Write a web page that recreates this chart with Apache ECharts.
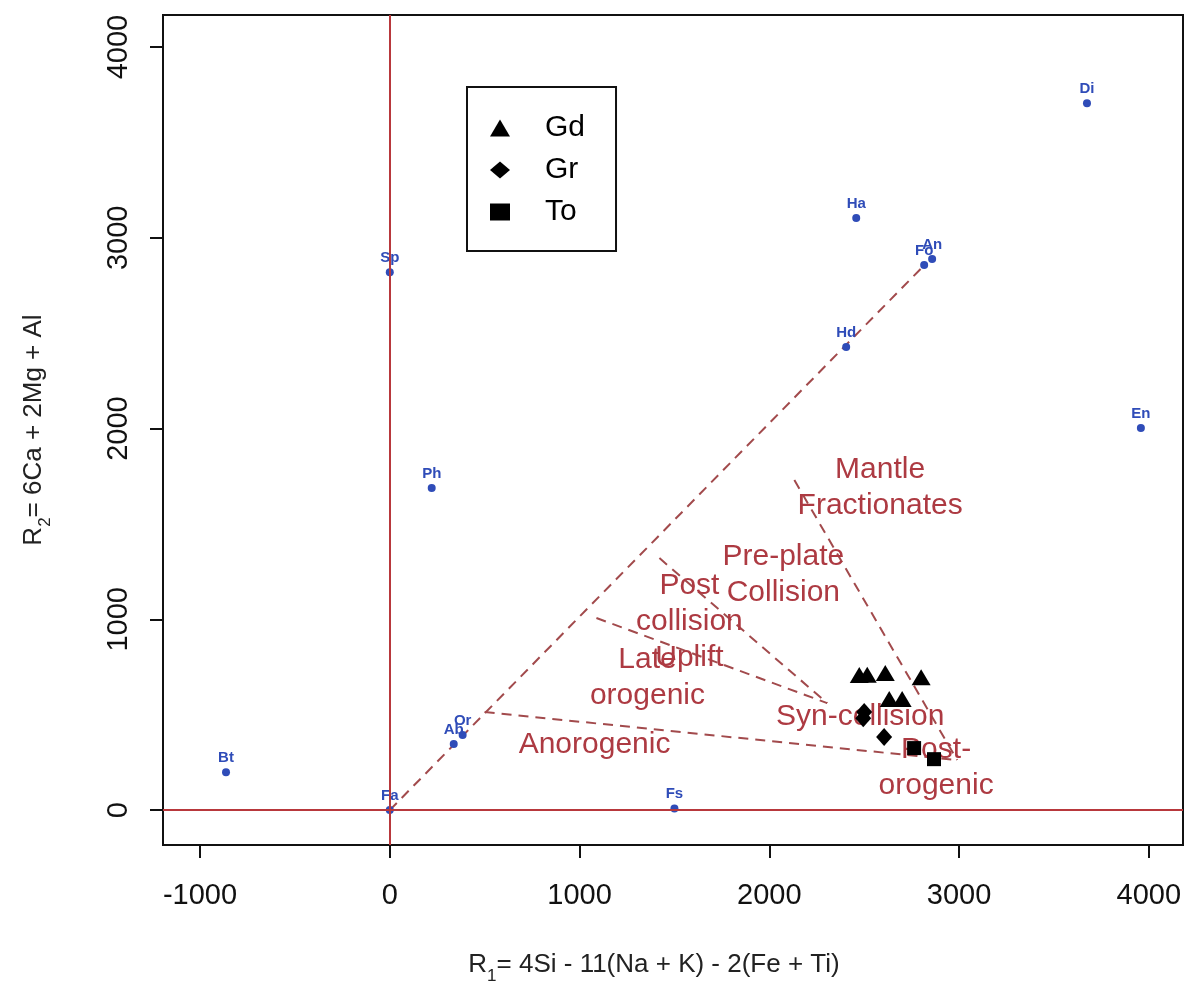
<!DOCTYPE html>
<html>
<head>
<meta charset="utf-8">
<script src="https://cdn.jsdelivr.net/npm/echarts@6/dist/echarts.min.js"></script>
<style>
  html, body { margin: 0; padding: 0; background: #fff; }
  #chart { width: 1184px; height: 986px; }
</style>
</head>
<body>
<div id="chart"></div>
<script>
// reference minerals (R1, R2)
var minerals = ["Di", "Ha", "Fo", "An", "Hd", "En", "Sp", "Ph", "Bt", "Ab", "Or", "Fa", "Fs"];
var mineralR1 = [3674, 2458, 2816, 2858, 2405, 3958, 0, 221, -863, 337, 384, 0, 1500];
var mineralR2 = [3706, 3104, 2857, 2889, 2427, 2003, 2820, 1688, 199, 346, 393, 0, 8];

// samples
var gdR1 = [2474, 2516, 2611, 2800, 2632, 2700];
var gdR2 = [708, 710, 718, 697, 582, 582];
var grR1 = [2500, 2495, 2605];
var grR2 = [514, 482, 383];
var toR1 = [2763, 2868];
var toR2 = [325, 267];

// field boundaries (dashed)
var boundaries = [
	[[0, 0], [2820, 2860]],
	[[500, 514], [2990, 262]],
	[[1089, 1007], [2305, 561]],
	[[1421, 1321], [2305, 561]],
	[[2132, 1730], [2990, 262]]
];

// field names
var fieldNames = ["Mantle\nFractionates", "Pre-plate\nCollision", "Post\ncollision\nUplift", "Late\norogenic", "Anorogenic", "Syn-collision", "Post-\norogenic"];
var fieldR1 = [2584, 2074, 1579, 1358, 1079, 2479, 2879];
var fieldR2 = [1688, 1232, 985, 692, 341, 488, 220];

var ticksR1 = [-1000, 0, 1000, 2000, 3000, 4000];
var ticksR2 = [0, 1000, 2000, 3000, 4000];

var FONT = "'Liberation Sans', Arial, sans-serif";
var RED = "#ad3a42";
var BLUE = "#2f4cb8";

function zip(xs, ys) {
	return xs.map(function (x, i) {
		return [x, ys[i]];
	});
}

function plain(v) {
	return String(v);
}

var chart = echarts.init(document.getElementById("chart"));

var series = [];

boundaries.forEach(function (seg) {
	series.push({
		type: "line",
		data: seg,
		symbol: "none",
		silent: true,
		lineStyle: { color: "#a24a4c", width: 2, type: [10, 7] },
		z: 2
	});
});

// zero lines
series.push({
	type: "scatter",
	data: [],
	silent: true,
	markLine: {
		silent: true,
		symbol: "none",
		label: { show: false },
		lineStyle: { color: "#b8383c", width: 2, type: "solid" },
		data: [{ xAxis: 0 }, { yAxis: 0 }]
	},
	z: 1
});

series.push({
	type: "scatter",
	data: fieldNames.map(function (n, i) {
		return { name: n, value: [fieldR1[i], fieldR2[i]] };
	}),
	symbol: "circle",
	symbolSize: 1,
	silent: true,
	itemStyle: { color: "rgba(0,0,0,0)", opacity: 1 },
	label: {
		show: true,
		position: "inside",
		formatter: "{b}",
		color: RED,
		opacity: 1,
		fontFamily: FONT,
		fontSize: 30,
		lineHeight: 36,
		align: "center"
	},
	z: 3
});

series.push({
	type: "scatter",
	data: minerals.map(function (n, i) {
		return { name: n, value: [mineralR1[i], mineralR2[i]] };
	}),
	symbol: "circle",
	symbolSize: 8,
	itemStyle: { color: BLUE, opacity: 1 },
	label: {
		show: true,
		position: "top",
		distance: 3,
		formatter: "{b}",
		color: BLUE,
		fontFamily: FONT,
		fontWeight: "bold",
		fontSize: 15
	},
	z: 4
});

series.push({
	name: "Gd",
	type: "scatter",
	data: zip(gdR1, gdR2),
	symbol: "triangle",
	symbolSize: [19, 16],
	itemStyle: { color: "#000", opacity: 1 },
	z: 5
});
series.push({
	name: "Gr",
	type: "scatter",
	data: zip(grR1, grR2),
	symbol: "diamond",
	symbolSize: [16, 18],
	itemStyle: { color: "#000", opacity: 1 },
	z: 5
});
series.push({
	name: "To",
	type: "scatter",
	data: zip(toR1, toR2),
	symbol: "rect",
	symbolSize: 14,
	itemStyle: { color: "#000", opacity: 1 },
	z: 5
});

var option = {
	animation: false,
	textStyle: { fontFamily: FONT },
	grid: {
		left: 163,
		right: 1,
		top: 15,
		bottom: 141,
		outerBoundsMode: "none",
		show: true,
		borderColor: "#111",
		borderWidth: 2,
		backgroundColor: "#fff"
	},
	legend: {
		data: ["Gd", "Gr", "To"],
		orient: "vertical",
		left: 467,
		top: 87,
		padding: [26, 31, 24, 23],
		itemGap: 12,
		itemWidth: 20,
		itemHeight: 17,
		borderColor: "#111",
		borderWidth: 2,
		backgroundColor: "#fff",
		selectedMode: false,
		itemStyle: { opacity: 1 },
		textStyle: {
			fontFamily: FONT,
			fontSize: 30,
			lineHeight: 29,
			color: "#000",
			padding: [0, 0, 0, 30]
		}
	},
	xAxis: {
		type: "value",
		min: -1195,
		max: 4180,
		splitLine: { show: false },
		axisLine: { show: true, onZero: false, lineStyle: { color: "#111", width: 2 } },
		axisTick: { show: true, length: 13, customValues: ticksR1, lineStyle: { color: "#111", width: 2 } },
		axisLabel: {
			customValues: ticksR1,
			formatter: plain,
			margin: 36,
			fontFamily: FONT,
			fontSize: 29,
			color: "#111"
		},
		name: "{a|R}{s|1}{a|= 4Si - 11(Na + K) - 2(Fe + Ti)}",
		nameLocation: "middle",
		nameGap: 107,
		nameTextStyle: {
			padding: [0, 38, 0, 0],
			rich: {
				a: { fontFamily: FONT, fontSize: 26, color: "#222", lineHeight: 30, verticalAlign: "top" },
				s: { fontFamily: FONT, fontSize: 17, color: "#222", lineHeight: 16, padding: [16, 0, 0, 0], verticalAlign: "top" }
			}
		}
	},
	yAxis: {
		type: "value",
		min: -183,
		max: 4168,
		splitLine: { show: false },
		axisLine: { show: true, onZero: false, lineStyle: { color: "#111", width: 2 } },
		axisTick: { show: true, length: 13, customValues: ticksR2, lineStyle: { color: "#111", width: 2 } },
		axisLabel: {
			customValues: ticksR2,
			formatter: plain,
			rotate: 90,
			margin: 30,
			fontFamily: FONT,
			fontSize: 29,
			color: "#111"
		},
		name: "{a|R}{s|2}{a|= 6Ca + 2Mg + Al}",
		nameLocation: "middle",
		nameGap: 112,
		nameTextStyle: {
			rich: {
				a: { fontFamily: FONT, fontSize: 26, color: "#222", lineHeight: 30, verticalAlign: "top" },
				s: { fontFamily: FONT, fontSize: 17, color: "#222", lineHeight: 16, padding: [16, 0, 0, 0], verticalAlign: "top" }
			}
		}
	},
	tooltip: { show: false },
	series: series
};

chart.setOption(option);
</script>
</body>
</html>
